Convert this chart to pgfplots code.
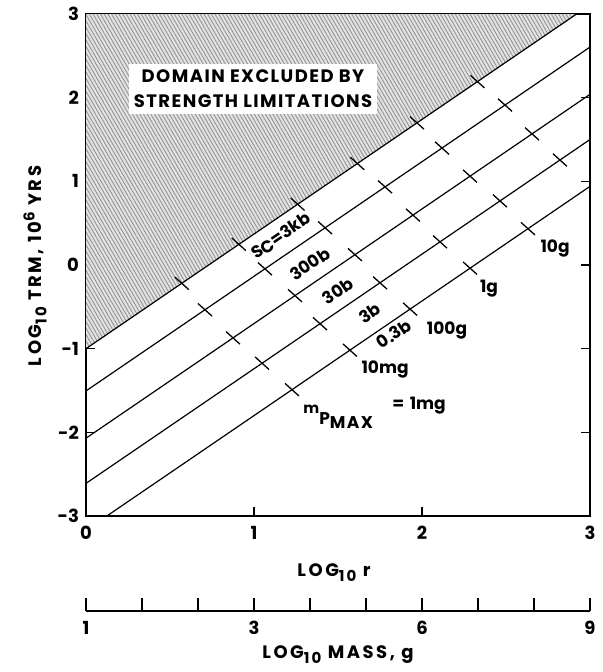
\documentclass[border=0pt]{standalone}
\usepackage{fontspec}
\setmainfont{Poppins}
\usepackage{pgfplots}
\pgfplotsset{compat=1.18}
\usetikzlibrary{patterns.meta}
\newcommand{\sub}[1]{\raisebox{-2.5pt}{\fontsize{7.5}{8}\selectfont #1}}
\newcommand{\lblfont}{\bfseries\fontsize{9}{10}\selectfont\addfontfeature{LetterSpace=14}}
\begin{document}
\begin{tikzpicture}[font=\bfseries]
\useasboundingbox (0,0) rectangle (301pt,-336pt);
\begin{axis}[
  at={(43pt,-258pt)}, anchor=south west,
  width=252pt, height=251pt, scale only axis,
  xmin=0, xmax=3, ymin=-3, ymax=3,
  xtick={0,1,2,3}, ytick={-3,-2,-1,0,1,2,3},
  tick align=inside, major tick length=4.5pt,
  axis line style={line width=0.7pt},
  every tick/.style={black, line width=0.6pt},
  /pgf/number format/assume math mode=true,
  ticklabel style={font=\bfseries\fontsize{9}{10}\selectfont},
  xticklabel style={yshift=-1.5pt},
]
\addplot[draw=none, fill=gray!22, forget plot] coordinates {(0,-1) (2.92,3) (0,3) (0,-1)};
\addplot[draw=none, pattern={Lines[angle=-60,distance=1.6pt,line width=0.45pt]}, pattern color=gray!85, forget plot] coordinates {(0,-1) (2.92,3) (0,3) (0,-1)};
\addplot[black, line width=0.6pt] coordinates {(0,-1) (2.92,3)};
\addplot[black, line width=0.6pt] coordinates {(0,-1.505) (3,2.605)};
\addplot[black, line width=0.6pt] coordinates {(0,-2.07) (3,2.04)};
\addplot[black, line width=0.6pt] coordinates {(0,-2.61) (3,1.50)};
\addplot[black, line width=0.6pt] coordinates {(0,-3.17) (3,0.94)};
\addplot[only marks, mark=|, mark size=4.7pt, mark options={rotate=48, line width=0.65pt, black}] coordinates {
(0.57,-0.219) (0.91,0.247) (1.26,0.726) (1.615,1.213) (1.97,1.699) (2.33,2.192)
(0.708,-0.535) (1.065,-0.046) (1.423,0.445) (1.78,0.934) (2.119,1.398) (2.494,1.912)
(0.875,-0.871) (1.244,-0.366) (1.601,0.123) (1.946,0.596) (2.286,1.062) (2.655,1.567)
(1.048,-1.174) (1.393,-0.702) (1.75,-0.213) (2.107,0.277) (2.464,0.766) (2.821,1.255)
(1.226,-1.490) (1.571,-1.018) (1.929,-0.527) (2.286,-0.038) (2.631,0.434)
};
\node[fill=white, align=center, inner xsep=2.5pt, inner ysep=3pt, font=\bfseries\fontsize{9}{12.5}\selectfont\addfontfeature{LetterSpace=8}] at (axis cs:0.994,2.108) {DOMAIN EXCLUDED BY\\STRENGTH LIMITATIONS};
\begin{scope}[every node/.style={font=\bfseries\fontsize{8.5}{9}\selectfont, inner sep=0pt}]
\node[rotate=34] at (axis cs:1.161,0.347) {S\raisebox{-1pt}{C}=3kb};
\node[rotate=34] at (axis cs:1.333,0.012) {300b};
\node[rotate=34] at (axis cs:1.5,-0.311) {30b};
\node[rotate=34] at (axis cs:1.69,-0.575) {3b};
\node[rotate=34] at (axis cs:1.833,-0.826) {0.3b};
\node at (axis cs:1.78,-1.246) {10mg};
\node at (axis cs:2.149,-0.778) {100g};
\node at (axis cs:2.399,-0.287) {1g};
\node at (axis cs:2.792,0.192) {10g};
\node[anchor=base west] at (axis cs:1.292,-1.772) {{\fontsize{7.5}{8}\selectfont m}\raisebox{-5.5pt}{P\raisebox{-2pt}{\addfontfeature{LetterSpace=8}MAX}}};
\node[anchor=base west] at (axis cs:1.821,-1.725) {=\,\,1mg};
\end{scope}
\end{axis}
\begin{axis}[
  at={(43pt,-305.5pt)}, anchor=south west,
  width=252pt, height=8pt, scale only axis,
  xmin=0, xmax=3, ymin=0, ymax=1,
  axis x line=bottom, axis y line=none,
  x axis line style={-, line width=0.7pt},
  xtick={0,0.33333,0.66667,1,1.33333,1.66667,2,2.33333,2.66667,3},
  xticklabels={1,{},{},3,{},{},6,{},{},9},
  xtick align=inside, major tick length=6.5pt,
  every tick/.style={black, line width=0.6pt},
  ticklabel style={font=\bfseries\fontsize{9}{10}\selectfont},
  xticklabel style={yshift=-1.5pt},
]
\addplot[draw=none] coordinates {(0,0)};
\end{axis}
\node[font=\lblfont] at (167pt,-286.5pt) {LOG\sub{10} r};
\node[font=\lblfont] at (169pt,-327.5pt) {LOG\sub{10} MASS, g};
\node[rotate=90, font=\lblfont] at (17.5pt,-133pt) {LOG\sub{10} TRM, 10\raisebox{3.5pt}{\fontsize{7.5}{8}\selectfont 6} YRS};
\end{tikzpicture}
\end{document}
